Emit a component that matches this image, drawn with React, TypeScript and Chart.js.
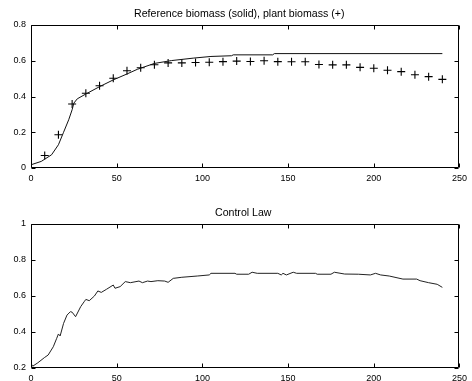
import React, { useEffect, useRef } from "react";
import { Chart, registerables } from "chart.js";

Chart.register(...registerables);

// Reference biomass trajectory (solid line)
const refTime = [0, 6, 12, 16, 19, 22, 24, 25, 27, 32, 40, 48, 56, 62, 72, 82, 95, 105, 117, 118, 141, 142, 240];
const refBiomass = [0.018, 0.037, 0.074, 0.13, 0.2, 0.27, 0.326, 0.363, 0.387, 0.414, 0.455, 0.493, 0.526, 0.552, 0.585, 0.601, 0.615, 0.624, 0.628, 0.633, 0.633, 0.64, 0.64];

// Measured plant biomass samples (+ markers)
const plantTime = [8, 16, 24, 32, 40, 48, 56, 64, 72, 80, 88, 96, 104, 112, 120, 128, 136, 144, 152, 160, 168, 176, 184, 192, 200, 208, 216, 224, 232, 240];
const plantBiomass = [0.07, 0.186, 0.358, 0.418, 0.46, 0.502, 0.544, 0.561, 0.578, 0.588, 0.588, 0.59, 0.592, 0.595, 0.598, 0.596, 0.6, 0.595, 0.594, 0.594, 0.579, 0.577, 0.577, 0.563, 0.558, 0.547, 0.539, 0.522, 0.511, 0.496];

// Control law output
const ctrlTime = [0, 1, 4, 8, 10, 13, 15, 16, 17, 19, 21, 23, 24, 26, 29, 31, 32, 34, 37, 39, 41, 44, 48, 49, 52, 55, 58, 63, 65, 68, 70, 74, 78, 80, 83, 88, 97, 104, 105, 119, 120, 127, 129, 132, 144, 146, 147, 149, 153, 155, 166, 167, 175, 177, 183, 191, 198, 201, 204, 209, 217, 225, 227, 232, 237, 240];
const ctrlValue = [0.225, 0.21, 0.229, 0.259, 0.272, 0.318, 0.365, 0.389, 0.378, 0.448, 0.494, 0.513, 0.51, 0.485, 0.541, 0.568, 0.581, 0.574, 0.6, 0.628, 0.62, 0.637, 0.661, 0.643, 0.652, 0.68, 0.674, 0.683, 0.674, 0.683, 0.68, 0.685, 0.683, 0.676, 0.698, 0.704, 0.711, 0.717, 0.726, 0.726, 0.721, 0.721, 0.732, 0.726, 0.726, 0.717, 0.726, 0.717, 0.732, 0.726, 0.726, 0.721, 0.721, 0.732, 0.722, 0.721, 0.717, 0.726, 0.717, 0.711, 0.694, 0.694, 0.685, 0.674, 0.665, 0.648];

const xTicks = [0, 50, 100, 150, 200, 250];

const FONT = "'Liberation Sans', Arial, Helvetica, sans-serif";

const toPoints = (xs: number[], ys: number[]) => xs.map((x, i) => ({ x, y: ys[i] }));

// Shortest decimal form: 0, 0.2, 1
const fmt = (v: number | string) => String(Number(Number(v).toFixed(3)));

// Box around the plot area with inward-pointing ticks on all four sides
const boxTicks = {
  id: "boxTicks",
  afterDraw(chart: any) {
    const { ctx, chartArea: a, scales } = chart;
    const x = scales.x;
    const y = scales.y;
    const L = 4;
    const left = Math.round(a.left) + 0.5;
    const right = Math.round(a.right) - 0.5;
    const top = Math.round(a.top) + 0.5;
    const bottom = Math.round(a.bottom) - 0.5;
    ctx.save();
    ctx.strokeStyle = "#000";
    ctx.lineWidth = 1;
    ctx.beginPath();
    ctx.rect(left, top, right - left, bottom - top);
    x.ticks.forEach((t: any) => {
      const px = Math.round(x.getPixelForValue(t.value)) + 0.5;
      ctx.moveTo(px, bottom);
      ctx.lineTo(px, bottom - L);
      ctx.moveTo(px, top);
      ctx.lineTo(px, top + L);
    });
    y.ticks.forEach((t: any) => {
      const py = Math.round(y.getPixelForValue(t.value)) + 0.5;
      ctx.moveTo(left, py);
      ctx.lineTo(left + L, py);
      ctx.moveTo(right, py);
      ctx.lineTo(right - L, py);
    });
    ctx.stroke();
    ctx.restore();
  },
};

// Axes title drawn above the plot box
const axesTitle = {
  id: "axesTitle",
  afterDraw(chart: any, _args: any, opts: any) {
    const { ctx, chartArea: a } = chart;
    ctx.save();
    ctx.fillStyle = "#000";
    ctx.font = `10.6px ${FONT}`;
    ctx.textAlign = "center";
    ctx.textBaseline = "middle";
    ctx.fillText(opts.text, (a.left + a.right) / 2 + opts.dx, a.top - opts.gap);
    ctx.restore();
  },
};

function makeOptions(opts: {
  title: string;
  titleDx: number;
  titleGap: number;
  padTop: number;
  yMin: number;
  yMax: number;
  xAxisHeight: number;
}): any {
  return {
    responsive: false,
    animation: false,
    layout: { padding: { left: 0, right: 6, top: opts.padTop, bottom: 0 } },
    plugins: {
      legend: { display: false },
      tooltip: { enabled: false },
      title: { display: false },
      axesTitle: { text: opts.title, dx: opts.titleDx, gap: opts.titleGap },
    },
    scales: {
      x: {
        type: "linear",
        min: 0,
        max: 250,
        afterBuildTicks: (s: any) => {
          s.ticks = xTicks.map((v) => ({ value: v }));
        },
        ticks: { color: "#000", font: { family: FONT, size: 9 }, padding: 5, maxRotation: 0, callback: fmt },
        grid: { display: false, drawTicks: false },
        border: { display: false },
        afterFit: (s: any) => {
          s.height = opts.xAxisHeight;
        },
      },
      y: {
        type: "linear",
        min: opts.yMin,
        max: opts.yMax,
        ticks: { color: "#000", font: { family: FONT, size: 9 }, padding: 5, stepSize: 0.2, callback: fmt },
        grid: { display: false, drawTicks: false },
        border: { display: false },
        afterFit: (s: any) => {
          s.width = 31;
        },
      },
    },
  };
}

export default function App() {
  const topRef = useRef<HTMLCanvasElement>(null);
  const bottomRef = useRef<HTMLCanvasElement>(null);

  useEffect(() => {
    const top = new Chart(topRef.current!, {
      type: "scatter",
      data: {
        datasets: [
          {
            label: "Reference biomass",
            data: toPoints(refTime, refBiomass),
            showLine: true,
            borderColor: "#111",
            borderWidth: 1,
            pointRadius: 0,
            tension: 0,
          },
          {
            label: "Plant biomass",
            data: toPoints(plantTime, plantBiomass),
            showLine: false,
            pointStyle: "cross",
            pointRadius: 4,
            borderColor: "#000",
            borderWidth: 1.1,
          },
        ],
      },
      options: makeOptions({
        title: "Reference biomass (solid), plant biomass (+)",
        titleDx: -6,
        titleGap: 11,
        padTop: 25,
        yMin: 0,
        yMax: 0.8,
        xAxisHeight: 22,
      }),
      plugins: [boxTicks, axesTitle],
    });

    const bottom = new Chart(bottomRef.current!, {
      type: "scatter",
      data: {
        datasets: [
          {
            label: "Control Law",
            data: toPoints(ctrlTime, ctrlValue),
            showLine: true,
            borderColor: "#222",
            borderWidth: 1,
            pointRadius: 0,
            tension: 0,
          },
        ],
      },
      options: makeOptions({
        title: "Control Law",
        titleDx: -2,
        titleGap: 11,
        padTop: 34,
        yMin: 0.2,
        yMax: 1,
        xAxisHeight: 13,
      }),
      plugins: [boxTicks, axesTitle],
    });

    return () => {
      top.destroy();
      bottom.destroy();
    };
  }, []);

  return (
    <div style={{ position: "fixed", left: 0, top: 0, width: 472, height: 381, background: "#fff" }}>
      <canvas ref={topRef} width={472} height={190} style={{ position: "absolute", left: 0, top: 0 }} />
      <canvas ref={bottomRef} width={472} height={191} style={{ position: "absolute", left: 0, top: 190 }} />
    </div>
  );
}
